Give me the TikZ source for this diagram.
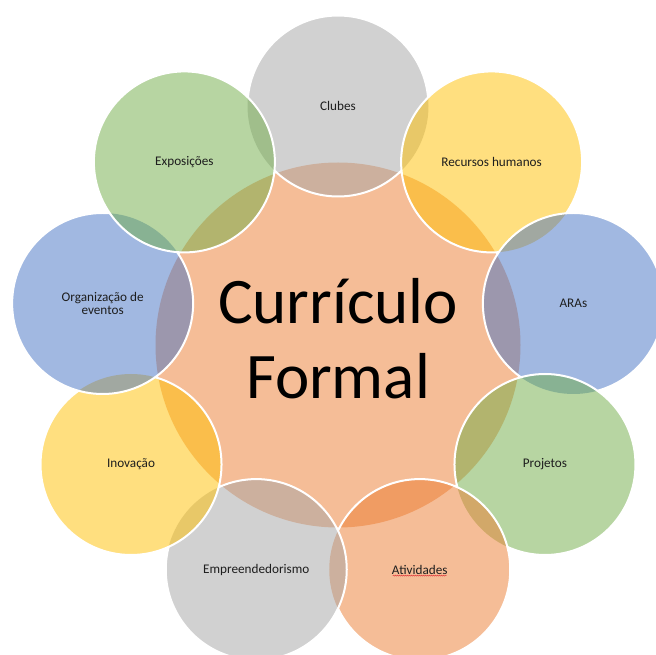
\documentclass[tikz,border=0pt]{standalone}
\usepackage{fontspec}
\setmainfont{Carlito}
\usetikzlibrary{calc,decorations.pathmorphing}
\definecolor{cgray}{HTML}{A5A5A5}
\definecolor{cyellow}{HTML}{FFC000}
\definecolor{cblue}{HTML}{4472C4}
\definecolor{cgreen}{HTML}{70AD47}
\definecolor{corange}{HTML}{ED7D31}
\definecolor{txt}{HTML}{1E1E1E}
\definecolor{squiggle}{HTML}{E04040}
\begin{document}
\begin{tikzpicture}[x=1pt,y=1pt,
  petal/.style={circle,minimum size=181pt,inner sep=0pt,fill opacity=0.5,text opacity=1,
    font=\fontsize{13.2}{13.5}\selectfont,text=txt,align=center},
  rim/.style={draw=white,line width=2pt},
  hub/.style={circle,minimum size=365pt,inner sep=0pt,fill=corange,fill opacity=0.5}]
\useasboundingbox (0,0) rectangle (656,654);
\clip (0,0) rectangle (656,654);
\fill[white] (0,0) rectangle (656,654);
\coordinate (O) at (338,309);
\node[hub] (cf) at (O) {};
\node[petal,fill=cgray]   (c1) at ($(O)+(90:239)$)   {Clubes};
\node[petal,fill=cyellow] (c2) at ($(O)+(50:239)$)   {Recursos humanos};
\node[petal,fill=cblue]   (c3) at ($(O)+(10:239)$)   {ARAs};
\node[petal,fill=cgreen]  (c4) at ($(O)+(-30:239)$)  {Projetos};
\node[petal,fill=corange] (c5) at ($(O)+(-70:239)$)  {Atividades};
\node[petal,fill=cgray]   (c6) at ($(O)+(-110:239)$) {Empreendedorismo};
\node[petal,fill=cyellow] (c7) at ($(O)+(-150:239)$) {Inovação};
\node[petal,fill=cblue]   (c8) at ($(O)+(170:239)$)  {Organização de\\eventos};
\node[petal,fill=cgreen]  (c9) at ($(O)+(130:239)$)  {Exposições};
\foreach \i/\j in {2/3,3/4,4/5,5/6,6/7,7/8,8/9}{
  \begin{scope}[even odd rule]
    \clip (700,-20) rectangle (-20,700) (c\j.center) circle[radius=90.5];
    \draw[rim] (c\i.center) circle[radius=90.5];
  \end{scope}}
\draw[rim] (c9.center) circle[radius=90.5];
\begin{scope}[even odd rule]
  \clip (700,-20) rectangle (-20,700) (c2.center) circle[radius=90.5];
  \clip (700,-20) rectangle (-20,700) (c9.center) circle[radius=90.5];
  \draw[rim] (c1.center) circle[radius=90.5];
\end{scope}
\node[font=\fontsize{65}{75}\selectfont,align=center,text=black] (t) at (338,315) {Currículo\\Formal};
\coordinate (u1) at ($(c5.center)+(-27,-6)$);
\coordinate (u2) at ($(c5.center)+(27,-6)$);
\draw[squiggle,line width=0.5pt,decorate,decoration={snake,amplitude=0.5pt,segment length=2pt}] (u1) -- (u2);
\end{tikzpicture}
\end{document}
